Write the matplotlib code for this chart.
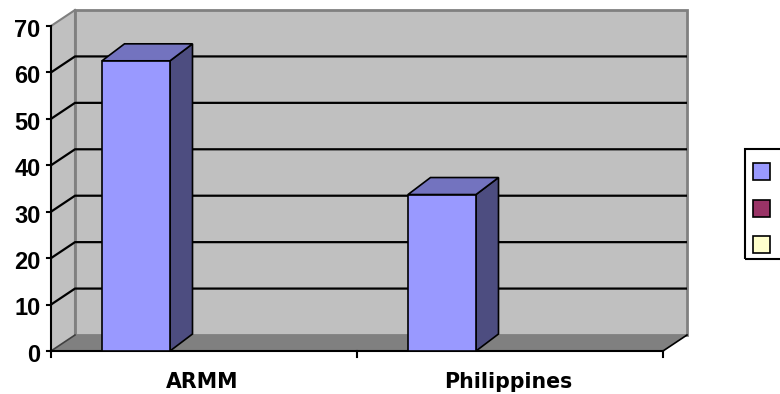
import matplotlib
matplotlib.use("Agg")
import matplotlib.pyplot as plt
from matplotlib.patches import Polygon, Rectangle

# ---- data ----
categories = ["ARMM", "Philippines"]
series_1 = [62.5, 33.7]
series_2 = [None, None]
series_3 = [None, None]
y_ticks = [0, 10, 20, 30, 40, 50, 60, 70]
series_colors = ["#9999FF", "#993366", "#FFFFCC"]
top_colors = ["#7373BF", "#73264D", "#BFBF99"]
side_colors = ["#4D4D80", "#4D1A33", "#808066"]

W, H = 780, 394
fig = plt.figure(figsize=(W / 100, H / 100), dpi=100)
ax = fig.add_axes([0, 0, 1, 1])

# layout: front axis origin at pixel (51, 351); 306 px per category; 325 px per 70 units
X0, Y0 = 51, 351
CATPX = 306
YPX = 325 / 70
ax.set_xlim(-X0 / CATPX, (W - X0) / CATPX)
ax.set_ylim(-(H - Y0) / YPX, Y0 / YPX)
ax.axis("off")

n = len(categories)
ymax = y_ticks[-1]
DX, DY = 24 / CATPX, 16 / YPX          # wall depth
BDX, BDY = 22.5 / CATPX, 17 / YPX      # bar depth

wall = "#C0C0C0"
floor = "#808080"
edge = "#808080"

# side wall
ax.add_patch(Polygon([(0, 0), (0, ymax), (DX, ymax + DY), (DX, DY)], closed=True,
                     fc=wall, ec="none", zorder=1))
# back wall
ax.add_patch(Rectangle((DX, DY), n, ymax, fc=wall, ec=edge, lw=2, zorder=1))
# floor
ax.add_patch(Polygon([(0, 0), (n, 0), (n + DX, DY), (DX, DY)], closed=True,
                     fc=floor, ec="none", zorder=1))
# wall edges
ax.plot([0, DX], [ymax, ymax + DY], color=edge, lw=1.5, zorder=2)
ax.plot([DX, DX], [DY, ymax + DY], color=edge, lw=1.5, zorder=2)
ax.plot([0, DX], [0, DY], color="#404040", lw=1.2, zorder=2)

# gridlines
for t in y_ticks[1:-1]:
    ax.plot([0, DX, n + DX], [t, t + DY, t + DY], color="black", lw=1.6, zorder=2,
            solid_capstyle="butt")

# front value axis
ax.plot([0, 0], [0, ymax], color="black", lw=1.5, zorder=5)
for t in y_ticks:
    ax.plot([-4 / CATPX, 0], [t, t], color="black", lw=1.5, zorder=5)
    ax.text(-10.5 / CATPX, t - 10.9 / YPX, str(t), ha="right", va="baseline",
            fontsize=17, fontweight="bold", family="Liberation Sans", zorder=5)

# category axis
ax.plot([0, n], [0, 0], color="black", lw=1.5, zorder=5)
ax.plot([n, n + DX], [0, DY], color="black", lw=1.2, zorder=5)
for c in range(n + 1):
    ax.plot([c, c], [0, -6 / YPX], color="black", lw=1.5, zorder=5)
for c, name in enumerate(categories):
    ax.text(c + 0.495, -36.7 / YPX, name, ha="center", va="baseline", fontsize=14.8,
            fontweight="bold", family="DejaVu Sans", zorder=5)

# bars (3 series per category, gap width 150%)
bw = 1 / 4.5
all_series = [series_1, series_2, series_3]
for i, s in enumerate(all_series):
    for c, v in enumerate(s):
        if v is None:
            continue
        x = c + 0.75 * bw + i * bw
        front = Rectangle((x, 0), bw, v, fc=series_colors[i], ec="black", lw=1.2, zorder=6)
        top = Polygon([(x, v), (x + bw, v), (x + bw + BDX, v + BDY), (x + BDX, v + BDY)],
                      closed=True, fc=top_colors[i], ec="black", lw=1.2, zorder=6)
        side = Polygon([(x + bw, 0), (x + bw + BDX, BDY), (x + bw + BDX, v + BDY), (x + bw, v)],
                       closed=True, fc=side_colors[i], ec="black", lw=1.2, zorder=6)
        ax.add_patch(side)
        ax.add_patch(top)
        ax.add_patch(front)

# legend (entries without labels)
def fx(px):
    return px / W

def fy(py):
    return (H - py) / H

fig.patches.append(Rectangle((fx(745), fy(259)), fx(50), (259 - 149) / H, fill=False,
                             ec="black", lw=1.5, transform=fig.transFigure, figure=fig))
for i, cy in enumerate([171, 208, 244]):
    fig.patches.append(Rectangle((fx(753), fy(cy + 8.5)), fx(17), 17 / H,
                                 fc=series_colors[i], ec="black", lw=1.2,
                                 transform=fig.transFigure, figure=fig))

fig.savefig("out.png", dpi=100)
